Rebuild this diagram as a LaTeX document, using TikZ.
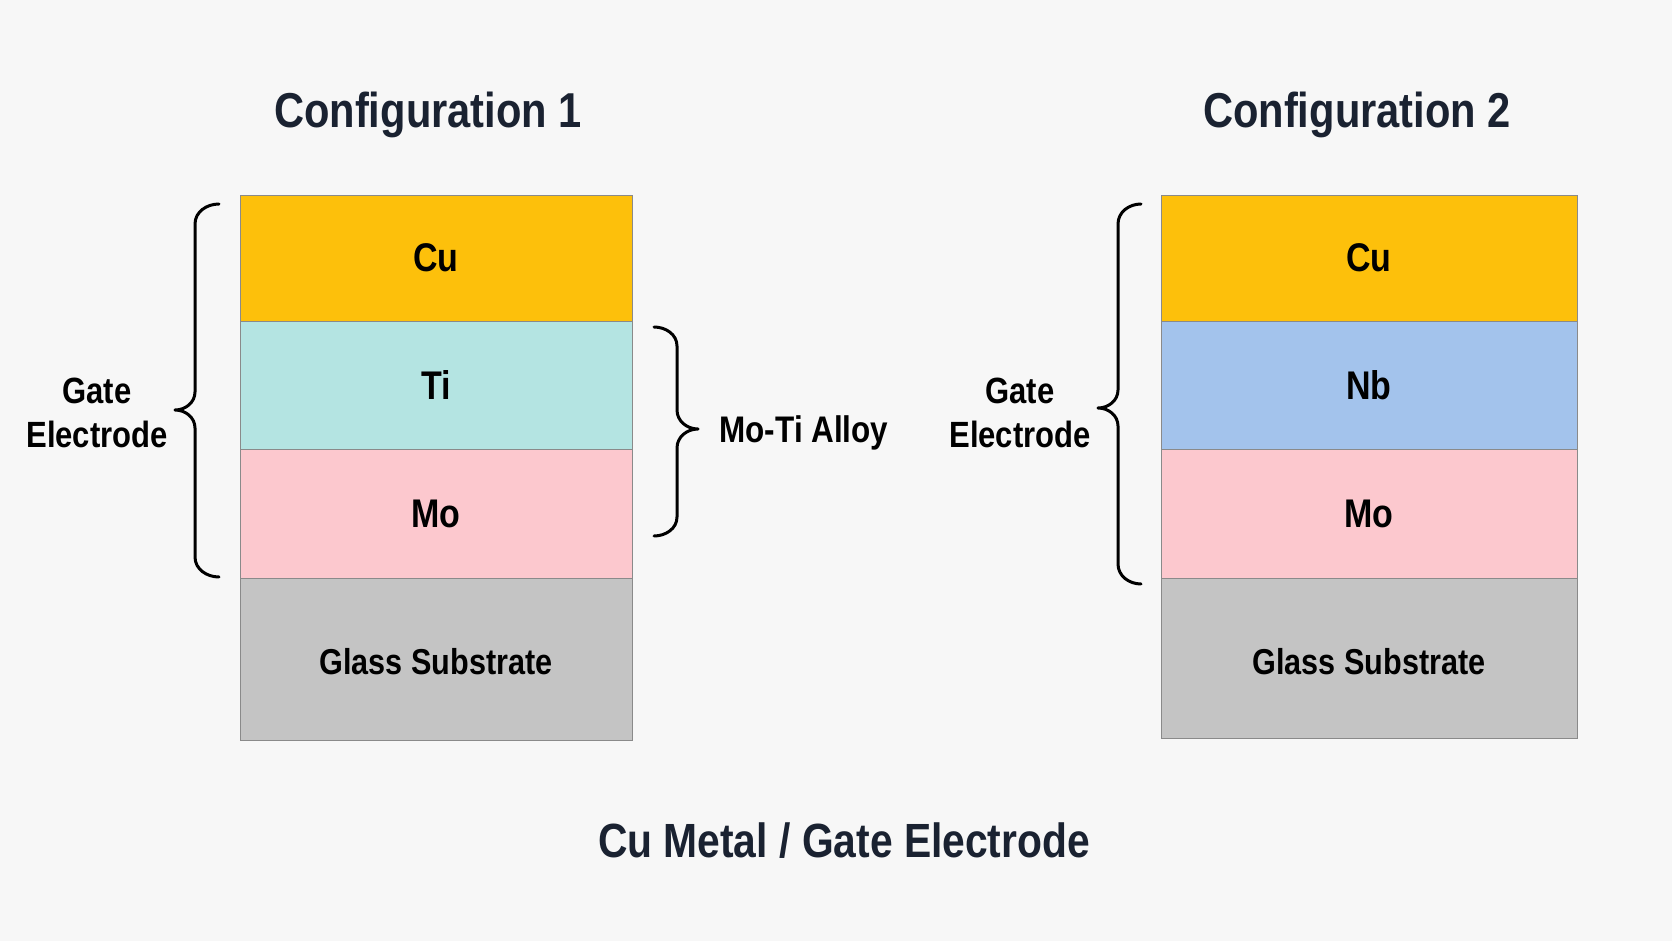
\documentclass[tikz,border=0pt]{standalone}
\usepackage{fontspec}
\setmainfont{Liberation Sans}[FakeStretch=0.85]
\definecolor{bg}{HTML}{F7F7F7}
\definecolor{cuc}{HTML}{FDC00B}
\definecolor{tic}{HTML}{B4E4E2}
\definecolor{moc}{HTML}{FCC8CE}
\definecolor{nbc}{HTML}{A3C3EC}
\definecolor{glc}{HTML}{C4C4C4}
\definecolor{edge}{HTML}{8A8A8A}
\definecolor{navy}{HTML}{1A2231}
\tikzset{
  layer/.style={draw=edge, line width=0.9pt, inner sep=0pt, outer sep=0pt, anchor=north west, font=\bfseries\fontsize{40}{44}\selectfont, text=black},
  title/.style={font=\bfseries\fontsize{49}{54}\selectfont, text=navy},
  side/.style={font=\bfseries\fontsize{36.5}{44}\selectfont, align=center, text=black},
  brace/.style={draw=black, line width=3pt, line cap=round, line join=round}
}
\begin{document}
\begin{tikzpicture}[x=1pt,y=-1pt]
\fill[bg] (0,0) rectangle (1672,941);
\useasboundingbox (0,0) rectangle (1672,941);
% titles
\node[title] (t1) at (428,115) {Configuration 1};
\node[title] (t2) at (1357,115) {Configuration 2};
% left stack
\node[layer, fill=cuc, minimum width=392pt, minimum height=126pt] (l1cu) at (240,195) {Cu};
\node[layer, fill=tic, minimum width=392pt, minimum height=128pt] (l1ti) at (240,321) {Ti};
\node[layer, fill=moc, minimum width=392pt, minimum height=129pt] (l1mo) at (240,449) {Mo};
\node[layer, fill=glc, minimum width=392pt, minimum height=162pt] (l1gl) at (240,578) {};
\node[font=\bfseries\fontsize{36}{40}\selectfont] (l1gt) at ([yshift=-3pt]l1gl.center) {Glass Substrate};
% right stack
\node[layer, fill=cuc, minimum width=416pt, minimum height=126pt] (r1cu) at (1161,195) {Cu};
\node[layer, fill=nbc, minimum width=416pt, minimum height=128pt] (r1nb) at (1161,321) {Nb};
\node[layer, fill=moc, minimum width=416pt, minimum height=129pt] (r1mo) at (1161,449) {Mo};
\node[layer, fill=glc, minimum width=416pt, minimum height=160pt] (r1gl) at (1161,578) {};
\node[font=\bfseries\fontsize{36}{40}\selectfont] (r1gt) at ([yshift=-4pt]r1gl.center) {Glass Substrate};
% left brace
\draw[brace] (219,204) to[out=180,in=90] (195,224) -- (195,392) to[out=-90,in=0] (175,410) to[out=0,in=90] (195,428) -- (195,557) to[out=-90,in=180] (219,577);
\node[side] (g1) at (97,413) {Gate\\Electrode};
% Mo-Ti brace
\draw[brace] (654,327) to[out=0,in=90] (677,346) -- (677,410) to[out=-90,in=180] (698,429) to[out=180,in=90] (677,448) -- (677,517) to[out=-90,in=0] (654,536);
\node[font=\bfseries\fontsize{37}{40}\selectfont, anchor=west] (alloy) at (716,433) {Mo-Ti Alloy};
% right brace
\draw[brace] (1141,204) to[out=180,in=90] (1118,224) -- (1118,390) to[out=-90,in=0] (1098,408) to[out=0,in=90] (1118,426) -- (1118,564) to[out=-90,in=180] (1141,584);
\node[side] (g2) at (1020,413) {Gate\\Electrode};
% bottom caption
\node[font=\bfseries\fontsize{48}{52}\selectfont, text=navy] (cap) at (844,841) {Cu Metal / Gate Electrode};
\end{tikzpicture}
\end{document}
